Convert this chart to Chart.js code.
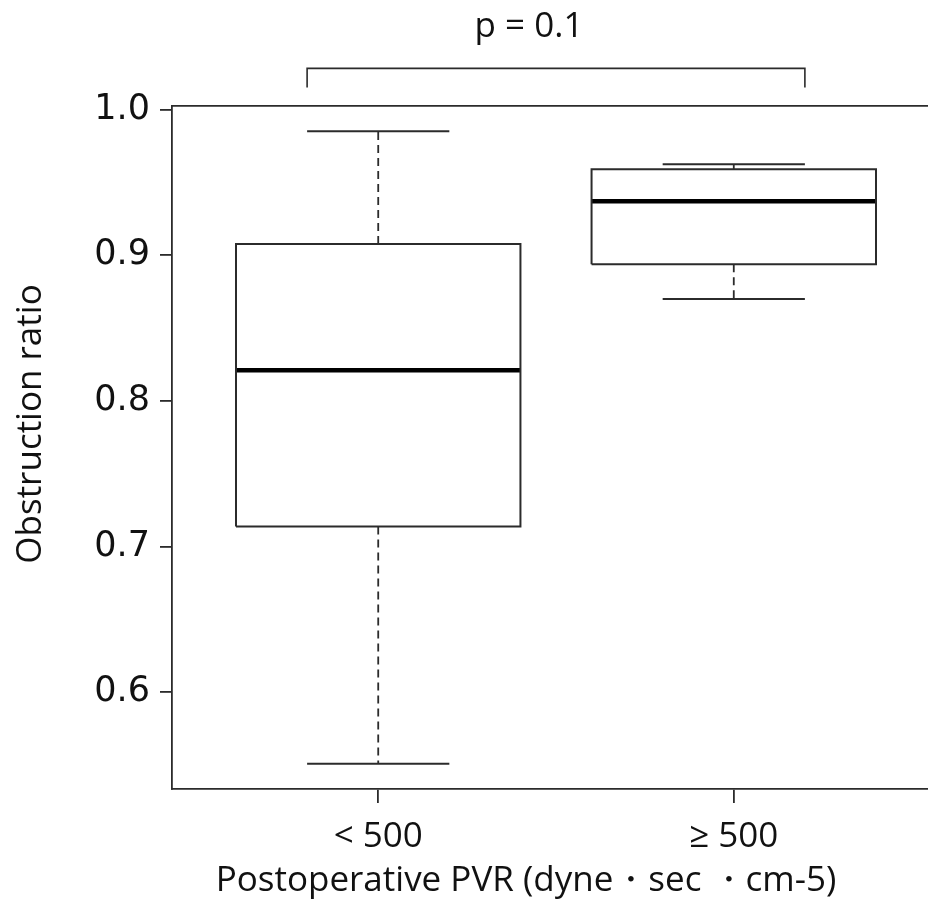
<!DOCTYPE html>
<html>
<head>
<meta charset="utf-8">
<script src="https://cdn.jsdelivr.net/npm/chart.js@4.4.1/dist/chart.umd.min.js"></script>
<style>
  html, body { margin: 0; padding: 0; background: #fff; overflow: hidden; }
  #wrap { width: 950px; height: 921px; }
</style>
</head>
<body>
<div id="wrap"><canvas id="boxChart" width="950" height="921"></canvas></div>
<script>
// values
const categories = ['< 500', '\u2265 500'];
const positions = [1, 2];
const whiskerLow = [0.551, 0.870];
const q1 = [0.7137, 0.8938];
const median = [0.821, 0.937];
const q3 = [0.9076, 0.959];
const whiskerHigh = [0.985, 0.9625];
const yTicks = [0.6, 0.7, 0.8, 0.9, 1.0];
const bracketY = [1.0151, 1.0282];
const pText = 'p = 0.1';
const xTitle = 'Postoperative PVR (dyne\u30fbsec \u30fbcm-5)';
const yTitle = 'Obstruction ratio';

const boxHalf = 0.4;
const capHalf = 0.2;
const lineColor = '#2b2b2b';
const textFont = '"Open Sans", "Noto Sans", sans-serif';

function lineSet(points, extra) {
  return Object.assign({
    type: 'line',
    data: points,
    borderColor: lineColor,
    borderWidth: 2,
    pointRadius: 0,
    fill: false,
    tension: 0,
    clip: false
  }, extra || {});
}

const datasets = [];
positions.forEach((x, i) => {
  // dashed whiskers
  datasets.push(lineSet([{x, y: q3[i]}, {x, y: whiskerHigh[i]}], {borderDash: [8, 5], borderWidth: 1.8}));
  datasets.push(lineSet([{x, y: q1[i]}, {x, y: whiskerLow[i]}], {borderDash: [8, 5], borderWidth: 1.8}));
  // caps
  datasets.push(lineSet([{x: x - capHalf, y: whiskerHigh[i]}, {x: x + capHalf, y: whiskerHigh[i]}]));
  datasets.push(lineSet([{x: x - capHalf, y: whiskerLow[i]}, {x: x + capHalf, y: whiskerLow[i]}]));
  // box
  datasets.push(lineSet([
    {x: x - boxHalf, y: q1[i]}, {x: x + boxHalf, y: q1[i]},
    {x: x + boxHalf, y: q3[i]}, {x: x - boxHalf, y: q3[i]},
    {x: x - boxHalf, y: q1[i]}
  ]));
  // median
  datasets.push(lineSet([{x: x - boxHalf, y: median[i]}, {x: x + boxHalf, y: median[i]}],
    {borderColor: '#000', borderWidth: 4.5}));
});
// significance bracket above the plot
datasets.push(lineSet([
  {x: positions[0] - capHalf, y: bracketY[0]}, {x: positions[0] - capHalf, y: bracketY[1]},
  {x: positions[1] + capHalf, y: bracketY[1]}, {x: positions[1] + capHalf, y: bracketY[0]}
], {borderWidth: 1.6}));

const freeText = {
  id: 'freeText',
  afterDraw(chart) {
    const ctx = chart.ctx;
    ctx.save();
    ctx.fillStyle = '#111';
    ctx.textAlign = 'center';
    ctx.textBaseline = 'middle';
    ctx.font = '35px ' + textFont;
    ctx.fillText(pText, 529, 27);
    ctx.fillText(xTitle, 526, 881);
    ctx.translate(31, 424);
    ctx.rotate(-Math.PI / 2);
    ctx.fillText(yTitle, 0, 0);
    ctx.restore();
  }
};

new Chart(document.getElementById('boxChart'), {
  type: 'line',
  data: { datasets },
  plugins: [freeText],
  options: {
    responsive: false,
    animation: false,
    devicePixelRatio: 1,
    layout: { padding: { left: 0, right: 10, top: 0, bottom: 0 } },
    plugins: { legend: { display: false }, tooltip: { enabled: false } },
    scales: {
      x: {
        type: 'linear',
        position: 'bottom',
        min: 0.42,
        max: 2.58,
        afterFit: s => { s.height = 132; },
        afterBuildTicks: s => { s.ticks = positions.map(v => ({value: v})); },
        grid: { display: true, drawOnChartArea: false, drawTicks: true, tickLength: 14, color: lineColor, lineWidth: 1.8 },
        border: { display: true, color: lineColor, width: 1.8 },
        ticks: {
          padding: 13,
          color: '#111',
          font: { family: textFont, size: 35 },
          callback: v => categories[positions.indexOf(v)] || ''
        }
      },
      xTop: {
        type: 'linear',
        position: 'top',
        afterFit: s => { s.height = 106; },
        grid: { display: false },
        border: { display: true, color: lineColor, width: 1.8 },
        ticks: { display: false }
      },
      y: {
        min: 0.5336,
        max: 1.0024,
        afterFit: s => { s.width = 172; },
        afterBuildTicks: s => { s.ticks = yTicks.map(v => ({value: v})); },
        grid: { display: true, drawOnChartArea: false, drawTicks: true, tickLength: 12, color: lineColor, lineWidth: 1.8 },
        border: { display: true, color: lineColor, width: 1.8 },
        ticks: {
          padding: 10,
          color: '#111',
          font: { family: '"DejaVu Sans", sans-serif', size: 35 },
          callback: v => Number(v).toFixed(1)
        }
      }
    }
  }
});
</script>
</body>
</html>
